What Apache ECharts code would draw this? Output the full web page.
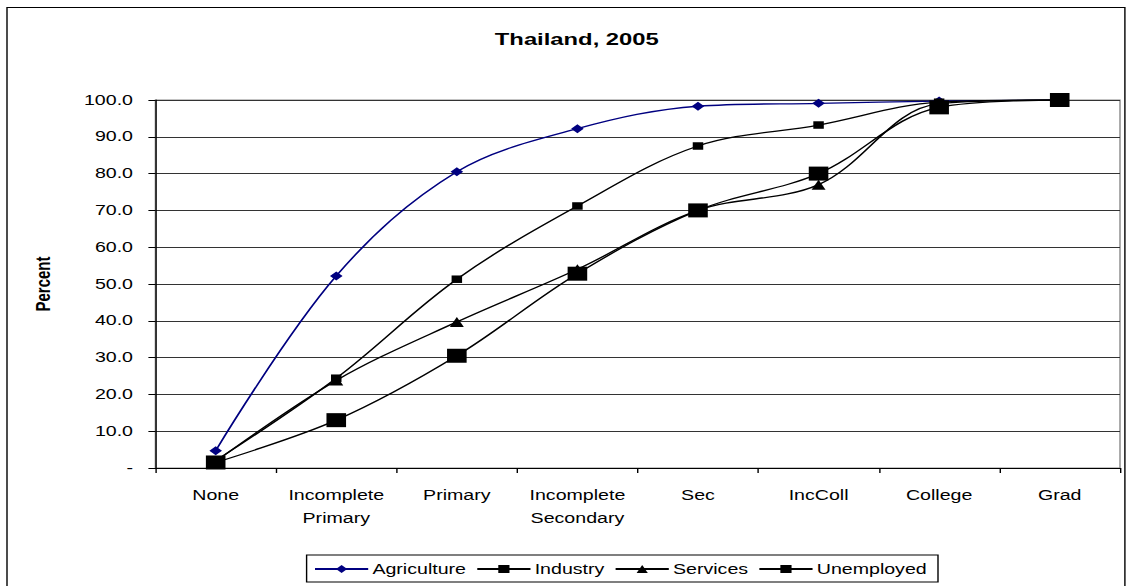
<!DOCTYPE html>
<html>
<head>
<meta charset="utf-8">
<script src="https://cdn.jsdelivr.net/npm/echarts@6/dist/echarts.min.js"></script>
<style>
  html, body { margin: 0; padding: 0; background: #fff; overflow: hidden; }
  /* the original export is stretched sideways, so draw narrow and widen it */
  #main { width: 809px; height: 586px; transform: scaleX(1.4); transform-origin: 0 0; }
</style>
</head>
<body>
<div id="main"></div>
<script>
const categories = ['None', 'Incomplete\nPrimary', 'Primary', 'Incomplete\nSecondary', 'Sec', 'IncColl', 'College', 'Grad']
const agriculture = [4.7, 52.2, 80.5, 92.2, 98.3, 99.1, 99.7, 100]
const industry = [2.0, 24.4, 51.3, 71.2, 87.5, 93.2, 99.4, 100]
const services = [1.8, 23.8, 39.7, 54.0, 70.0, 77.0, 99.0, 100]
const unemployed = [1.5, 13.0, 30.5, 52.8, 70.0, 80.0, 98.0, 100]

const chart = echarts.init(document.getElementById('main'), null, { renderer: 'svg' })
const font = 'Liberation Sans, Arial, sans-serif'

const lineSeries = (name, data, symbol, size, color) => ({
  name,
  type: 'line',
  data,
  smooth: 0.35,
  symbol,
  symbolSize: size,
  showAllSymbol: true,
  lineStyle: { color, width: 1.3 },
  itemStyle: { color, borderWidth: 0 },
  emphasis: { disabled: true },
  z: 3
})

const option = {
  animation: false,
  backgroundColor: '#fff',
  textStyle: { fontFamily: font },
  title: {
    text: 'Thailand, 2005',
    left: 407,
    textAlign: 'center',
    top: 25,
    textStyle: { fontSize: 17, fontWeight: 'bold', color: '#000', fontFamily: font }
  },
  graphic: [
    {
      type: 'rect',
      shape: { x: 5, y: 7.5, width: 798.5, height: 600 },
      style: { fill: 'none', stroke: '#000', lineWidth: 1 },
      z: -1
    }
  ],
  legend: {
    left: 219,
    top: 555,
    itemWidth: 38,
    itemHeight: 10,
    itemGap: 7,
    padding: [7, 8, 6, 5],
    borderColor: '#000',
    borderWidth: 1,
    borderRadius: 0,
    textStyle: { fontSize: 14, color: '#000', fontFamily: font, padding: [0, 0, 0, -2] },
    data: ['Agriculture', 'Industry', 'Services', 'Unemployed']
  },
  grid: {
    left: 111, right: 9, top: 100, bottom: 118,
    show: true, borderColor: '#888', borderWidth: 1, backgroundColor: 'transparent'
  },
  xAxis: {
    type: 'category',
    data: categories,
    boundaryGap: true,
    axisLine: { lineStyle: { color: '#000', width: 1 } },
    axisTick: { show: true, interval: 0, length: 5, inside: false, lineStyle: { color: '#000' } },
    axisLabel: {
      interval: 0, hideOverlap: false,
      color: '#000', fontSize: 14, margin: 16, lineHeight: 23, fontFamily: font
    }
  },
  yAxis: {
    type: 'value',
    min: 0,
    max: 100,
    interval: 10,
    name: 'Percent',
    nameLocation: 'middle',
    nameGap: 73,
    nameRotate: 90,
    nameTextStyle: { fontSize: 15, fontWeight: 'bold', color: '#000', fontFamily: font },
    axisLine: { show: true, lineStyle: { color: '#000', width: 1 } },
    axisTick: { show: true, length: 5, lineStyle: { color: '#000' } },
    axisLabel: {
      color: '#000',
      fontSize: 14,
      margin: 16,
      fontFamily: font,
      formatter: v => (v === 0 ? '-' : v.toFixed(1))
    },
    splitLine: { show: true, lineStyle: { color: '#333', width: 1 } }
  },
  series: [
    lineSeries('Agriculture', agriculture, 'diamond', 9, '#000080'),
    lineSeries('Industry', industry, 'rect', 7.5, '#000'),
    lineSeries('Services', services, 'triangle', 10, '#000'),
    lineSeries('Unemployed', unemployed, 'rect', 14, '#000')
  ]
}

chart.setOption(option)
</script>
</body>
</html>
